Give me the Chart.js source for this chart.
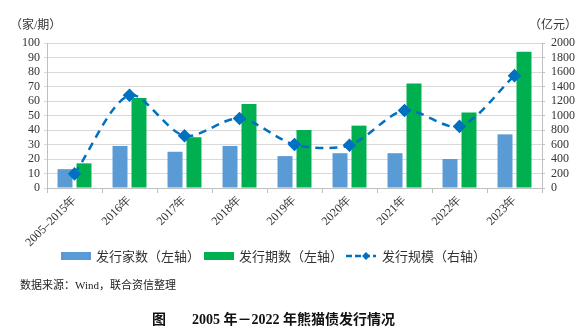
<!DOCTYPE html>
<html>
<head>
<meta charset="utf-8">
<script src="https://cdn.jsdelivr.net/npm/chart.js@4"></script>
<style>
    html, body { margin: 0; padding: 0; background: #fff; }
    #wrap { position: relative; width: 587px; height: 330px; overflow: hidden; }
    #wrap canvas { position: absolute; left: 0; top: 0; }
    .txt { position: absolute; white-space: nowrap; color: #333;
           font-family: 'Liberation Serif', 'Noto Sans CJK SC', serif; }
    .unit { top: 15px; font-size: 12px; }
    #legend { top: 246px; left: 0; width: 587px; font-size: 13px; }
    .lg { position: absolute; top: 0; display: flex; align-items: center; }
    .sw { display: inline-block; width: 30px; height: 8px; margin-right: 5px; }
    #source { left: 20px; top: 276px; font-size: 11px; color: #222; }
    #title { top: 308px; left: 0; width: 587px; font-size: 14px; font-weight: bold; color: #111; }
</style>
</head>
<body>
<div id="wrap">
    <canvas id="chart" width="587" height="330"></canvas>
    <div class="txt unit" style="left:10px;">（家/期）</div>
    <div class="txt unit" style="left:529px;">（亿元）</div>
    <div class="txt" id="legend">
        <div class="lg" style="left:61px;"><span class="sw" style="background:#5B9BD5;"></span>发行家数（左轴）</div>
        <div class="lg" style="left:204px;"><span class="sw" style="background:#00B050;"></span>发行期数（左轴）</div>
        <div class="lg" style="left:346px;"><canvas id="lineSwatch" width="30" height="12" style="position:static;margin-right:6px;"></canvas>发行规模（右轴）</div>
    </div>
    <div class="txt" id="source">数据来源：Wind，联合资信整理</div>
    <div class="txt" id="title"><span style="position:absolute;left:152px;">图</span><span style="position:absolute;left:192px;">2005 年－2022 年熊猫债发行情况</span></div>
</div>
<script>
// Categories and series
const categories = ['2005–2015年', '2016年', '2017年', '2018年', '2019年', '2020年', '2021年', '2022年', '2023年'];
const issuerCount = [13, 29, 25, 29, 22, 24, 24, 20, 37];     // 发行家数（左轴）
const issueCount = [17, 62, 35, 58, 40, 43, 72, 52, 94];      // 发行期数（左轴）
const issueScale = [195, 1280, 720, 960, 600, 590, 1070, 850, 1550]; // 发行规模（右轴，亿元）

const leftTicks = { min: 0, max: 100, step: 10 };
const rightTicks = { min: 0, max: 2000, step: 200 };

const tickFont = { family: "'Liberation Serif', serif", size: 12 };

// Draw the small line + diamond symbol for the legend
function drawLineSwatch() {
    const c = document.getElementById('lineSwatch').getContext('2d');
    c.strokeStyle = '#0070C0';
    c.lineWidth = 2.5;
    c.setLineDash([6, 3]);
    c.beginPath();
    c.moveTo(0, 6);
    c.lineTo(30, 6);
    c.stroke();
    c.fillStyle = '#0070C0';
    c.beginPath();
    c.moveTo(20, 2); c.lineTo(24, 6); c.lineTo(20, 10); c.lineTo(16, 6);
    c.closePath();
    c.fill();
}

document.addEventListener('DOMContentLoaded', function() {
    drawLineSwatch();

    const ctx = document.getElementById('chart').getContext('2d');
    new Chart(ctx, {
        type: 'bar',
        data: {
            labels: categories,
            datasets: [
                {
                    type: 'line',
                    label: '发行规模（右轴）',
                    data: issueScale,
                    yAxisID: 'y2',
                    borderColor: '#0070C0',
                    backgroundColor: '#0070C0',
                    borderWidth: 2.5,
                    borderDash: [8, 6],
                    tension: 0.3,
                    pointStyle: 'rectRot',
                    pointRadius: 5,
                    fill: false,
                    order: 0
                },
                {
                    label: '发行家数（左轴）',
                    data: issuerCount,
                    backgroundColor: '#5B9BD5',
                    yAxisID: 'y',
                    categoryPercentage: 0.69,
                    barPercentage: 0.79,
                    order: 1
                },
                {
                    label: '发行期数（左轴）',
                    data: issueCount,
                    backgroundColor: '#00B050',
                    yAxisID: 'y',
                    categoryPercentage: 0.69,
                    barPercentage: 0.79,
                    order: 1
                }
            ]
        },
        options: {
            responsive: false,
            animation: false,
            layout: { padding: { left: 0, right: 0, top: 43, bottom: 0 } },
            plugins: {
                legend: { display: false },
                tooltip: { enabled: false }
            },
            scales: {
                x: {
                    grid: { display: true, drawOnChartArea: false, offset: true, color: '#bfbfbf', tickLength: 5 },
                    border: { color: '#bfbfbf' },
                    ticks: {
                        font: tickFont,
                        color: '#333',
                        minRotation: 45,
                        maxRotation: 45,
                        autoSkip: false,
                        padding: 0
                    },
                    afterFit: function(scale) { scale.height = 142; }
                },
                y: {
                    position: 'left',
                    min: leftTicks.min,
                    max: leftTicks.max,
                    ticks: {
                        stepSize: leftTicks.step, autoSkip: false,
                        font: tickFont, color: '#333', padding: 4,
                        callback: v => String(v)
                    },
                    grid: { color: '#d9d9d9', tickLength: 3 },
                    border: { color: '#bfbfbf' },
                    afterFit: function(scale) { scale.width = 47; }
                },
                y2: {
                    position: 'right',
                    min: rightTicks.min,
                    max: rightTicks.max,
                    ticks: {
                        stepSize: rightTicks.step, autoSkip: false,
                        font: tickFont, color: '#333', padding: 6,
                        callback: v => String(v)
                    },
                    grid: { drawOnChartArea: false, color: '#bfbfbf', tickLength: 3 },
                    border: { color: '#bfbfbf' },
                    afterFit: function(scale) { scale.width = 45; }
                }
            }
        }
    });
});
</script>
</body>
</html>
